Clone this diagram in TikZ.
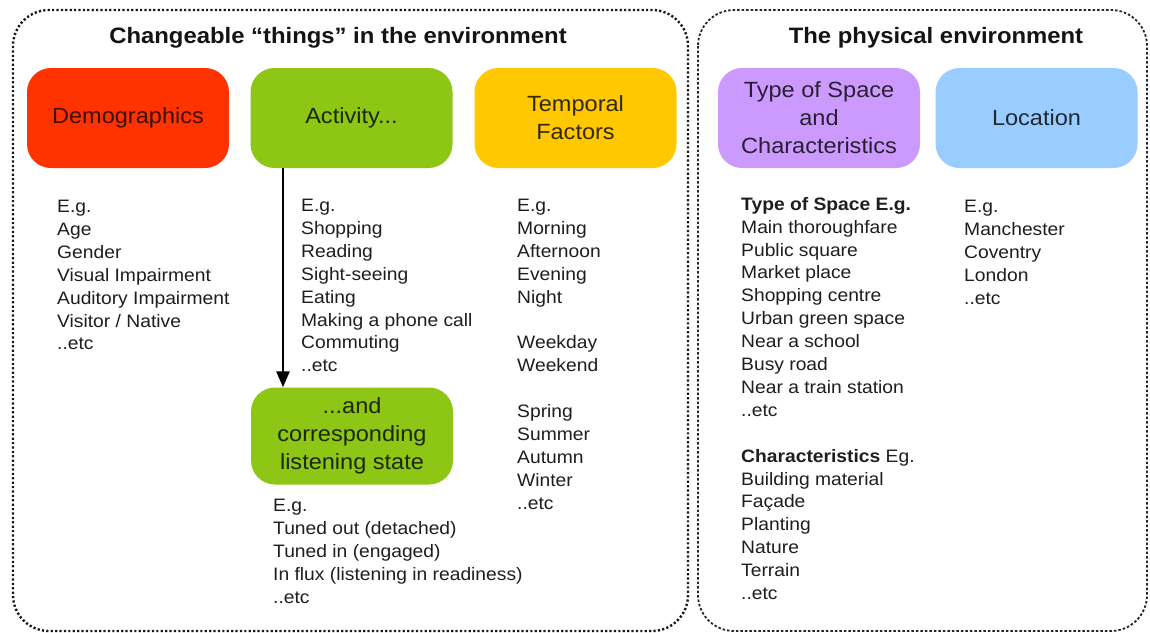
\documentclass[tikz,border=0pt]{standalone}
\usepackage{fontspec}
\setmainfont{Liberation Sans}[FakeStretch=1.07]
\usetikzlibrary{arrows.meta}
\definecolor{cRed}{RGB}{255,51,0}
\definecolor{cGreen}{RGB}{141,198,20}
\definecolor{cYellow}{RGB}{255,200,0}
\definecolor{cPurple}{RGB}{204,153,255}
\definecolor{cBlue}{RGB}{153,204,255}
\definecolor{txt}{RGB}{30,30,30}
\begin{document}
\begin{tikzpicture}[x=1pt,y=-1pt,
  panelL/.style={draw=black!90, line width=2.4pt, dash pattern=on 2.2pt off 2.2pt, rounded corners=36pt},
  panelR/.style={draw=black!85, line width=1.8pt, dash pattern=on 2.5pt off 2pt, rounded corners=36pt},
  cat/.style={rounded corners=24pt, minimum width=202pt, minimum height=100pt, align=center,
    font=\fontsize{22}{28}\selectfont, inner sep=0pt},
  title/.style={font=\bfseries\fontsize{22.3}{26}\selectfont, text=black!92, anchor=base},
  list/.style={anchor=north west, align=left, inner sep=0pt, font=\fontsize{18}{22.9}\selectfont, text=txt},
  arr/.style={line width=2.7pt, -{Triangle[length=16pt,width=13pt]}}
]
\useasboundingbox (0,0) rectangle (1150,632);
\fill[white] (0,0) rectangle (1150,632);

% panels
\draw[panelL] (13,10) rectangle (688,631);
\draw[panelR] (698,10) rectangle (1147,631);

% titles
\node[title] (t1) at (338,43) {Changeable “things” in the environment};
\node[title] (t2) at (936,43) {The physical environment};

% category boxes
\node[cat, fill=cRed, text=black!75!cRed] (demo) at (128,118) {Demographics};
\node[cat, fill=cGreen, text=black!80!cGreen] (act) at (351.5,118) {Activity...};
\node[cat, fill=cYellow, text=black!80!cYellow] (temp) at (575.5,118) {Temporal\\Factors};
\node[cat, fill=cPurple, text=black!80!cPurple] (type) at (819,118) {Type of Space\\and\\Characteristics};
\node[cat, fill=cBlue, text=black!80!cBlue] (loc) at (1036.5,118) {Location};
\node[cat, fill=cGreen, text=black!80!cGreen, minimum height=97pt] (listen) at (352,436) {...and\\corresponding\\listening state};

% arrow
\coordinate (ax) at (283,0);
\draw[arr] (act.south -| ax) -- (listen.north -| ax);

% lists
\node[list] (demoList) at (57,200) {E.g.\\Age\\Gender\\Visual Impairment\\Auditory Impairment\\Visitor / Native\\..etc};
\node[list] (actList) at (301,199) {E.g.\\Shopping\\Reading\\Sight-seeing\\Eating\\Making a phone call\\Commuting\\..etc};
\node[list] (tempList) at (517,199) {E.g.\\Morning\\Afternoon\\Evening\\Night\\[22.9pt]Weekday\\Weekend\\[22.9pt]Spring\\Summer\\Autumn\\Winter\\..etc};
\node[list] (listenList) at (273,499) {E.g.\\Tuned out (detached)\\Tuned in (engaged)\\In flux (listening in readiness)\\..etc};
\node[list] (typeList) at (741,197) {\textbf{Type of Space E.g.}\\Main thoroughfare\\Public square\\Market place\\Shopping centre\\Urban green space\\Near a school\\Busy road\\Near a train station\\..etc\\[22.9pt]\textbf{Characteristics} Eg.\\Building material\\Façade\\Planting\\Nature\\Terrain\\..etc};
\node[list] (locList) at (964,200) {E.g.\\Manchester\\Coventry\\London\\..etc};
\end{tikzpicture}
\end{document}
